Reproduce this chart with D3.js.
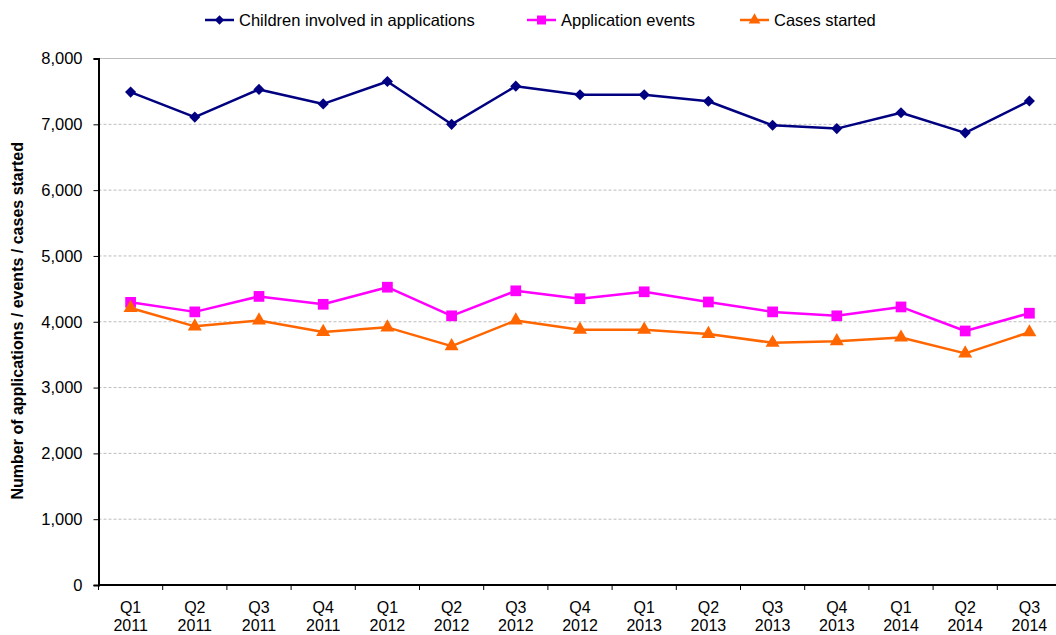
<!DOCTYPE html>
<html>
<head>
<meta charset="utf-8">
<script src="https://cdn.jsdelivr.net/npm/d3@7"></script>
<style>
  html, body { margin: 0; padding: 0; background: #fff; }
  svg { display: block; font-family: "Liberation Sans", Arial, sans-serif; }
</style>
</head>
<body>
<svg id="chart" width="1056" height="635"></svg>
<script>
// Quarterly categories (two-line labels)
const quarters = ["Q1","Q2","Q3","Q4","Q1","Q2","Q3","Q4","Q1","Q2","Q3","Q4","Q1","Q2","Q3"];
const years    = ["2011","2011","2011","2011","2012","2012","2012","2012","2013","2013","2013","2013","2014","2014","2014"];

const children    = [7490, 7110, 7530, 7310, 7650, 7000, 7580, 7450, 7450, 7350, 6985, 6935, 7175, 6870, 7355];
const events      = [4295, 4150, 4385, 4265, 4525, 4090, 4470, 4350, 4455, 4300, 4150, 4090, 4225, 3860, 4130];
const casesStart  = [4210, 3930, 4020, 3845, 3915, 3630, 4020, 3880, 3880, 3815, 3680, 3705, 3760, 3520, 3840];

const yTicks = [0, 1000, 2000, 3000, 4000, 5000, 6000, 7000, 8000];
const seriesNames = ["Children involved in applications", "Application events", "Cases started"];

const svg = d3.select("#chart");
const plotLeft = 98.5, plotTop = 58.5, plotBottom = 585;
const step = 64.2;
const keys = quarters.map((q, i) => i);

const x = d3.scaleBand().domain(keys).range([plotLeft, plotLeft + step * keys.length]).padding(0);
const y = d3.scaleLinear().domain([0, 8000]).range([plotBottom, plotTop]);

// Horizontal gridlines
svg.append("g").selectAll("line")
  .data(yTicks.filter(t => t > 0))
  .join("line")
  .attr("x1", plotLeft).attr("x2", 1056)
  .attr("y1", d => y(d)).attr("y2", d => y(d))
  .attr("stroke", "#bdbdbd")
  .attr("stroke-width", 1)
  .attr("stroke-dasharray", d => d === 8000 ? null : "3,2");

// Y axis
const yAxis = d3.axisLeft(y).tickValues(yTicks).tickSize(5).tickPadding(11)
  .tickFormat(d3.format(","));
const gy = svg.append("g").attr("transform", `translate(${plotLeft},0)`).call(yAxis);
gy.select(".domain").attr("stroke", "#000").attr("stroke-width", 2);
gy.selectAll(".tick line").attr("stroke", "#000");
gy.selectAll(".tick text").attr("font-size", 16.5).attr("fill", "#000")
  .attr("font-family", "Liberation Sans, Arial, sans-serif");

// X axis baseline and boundary ticks
svg.append("line").attr("x1", plotLeft).attr("x2", 1056)
  .attr("y1", plotBottom).attr("y2", plotBottom)
  .attr("stroke", "#000").attr("stroke-width", 2);
svg.append("g").selectAll("line")
  .data(d3.range(keys.length + 1))
  .join("line")
  .attr("x1", i => plotLeft + i * step).attr("x2", i => plotLeft + i * step)
  .attr("y1", plotBottom).attr("y2", plotBottom + 5)
  .attr("stroke", "#000").attr("stroke-width", 1);

const xl = svg.append("g").selectAll("text")
  .data(keys)
  .join("text")
  .attr("x", i => x(i) + x.bandwidth() / 2)
  .attr("text-anchor", "middle")
  .attr("font-size", 16)
  .attr("fill", "#000");
xl.append("tspan").attr("x", i => x(i) + x.bandwidth() / 2).attr("y", 613).text(i => quarters[i]);
xl.append("tspan").attr("x", i => x(i) + x.bandwidth() / 2).attr("y", 631).text(i => years[i]);

// Y axis title
svg.append("text")
  .attr("transform", `translate(23,${(plotTop + plotBottom) / 2 - 1}) rotate(-90)`)
  .attr("text-anchor", "middle")
  .attr("font-size", 16)
  .attr("font-weight", "bold")
  .attr("fill", "#000")
  .text("Number of applications / events / cases started");

// Series; diamonds are squares turned 45 degrees
const series = [
  { name: seriesNames[0], values: children,   color: "#000080", symbol: d3.symbolSquare,   size: 62, rotate: 45 },
  { name: seriesNames[1], values: events,     color: "#FF00FF", symbol: d3.symbolSquare,   size: 115, rotate: 0 },
  { name: seriesNames[2], values: casesStart, color: "#FF6600", symbol: d3.symbolTriangle, size: 85, rotate: 0 }
];

const line = d3.line()
  .x((d, i) => x(i) + x.bandwidth() / 2)
  .y(d => y(d));

series.forEach(s => {
  svg.append("path")
    .attr("d", line(s.values))
    .attr("fill", "none")
    .attr("stroke", s.color)
    .attr("stroke-width", 2.5)
    .attr("stroke-linejoin", "round");
  svg.append("g").selectAll("path")
    .data(s.values)
    .join("path")
    .attr("transform", (d, i) => `translate(${x(i) + x.bandwidth() / 2},${y(d)}) rotate(${s.rotate})`)
    .attr("d", d3.symbol().type(s.symbol).size(s.size))
    .attr("fill", s.color);
});

// Legend
const legendX = [205, 527, 740];
const lg = svg.append("g");
series.forEach((s, i) => {
  const g = lg.append("g").attr("transform", `translate(${legendX[i]},20)`);
  g.append("line").attr("x1", 0).attr("x2", 29).attr("y1", 0).attr("y2", 0)
    .attr("stroke", s.color).attr("stroke-width", 2.5);
  g.append("path").attr("transform", `translate(14.5,0) rotate(${s.rotate})`)
    .attr("d", d3.symbol().type(s.symbol).size(s.size * 0.7)).attr("fill", s.color);
  g.append("text").attr("x", 34).attr("y", 6).attr("font-size", 16.5).attr("fill", "#000")
    .text(s.name);
});
</script>
</body>
</html>
